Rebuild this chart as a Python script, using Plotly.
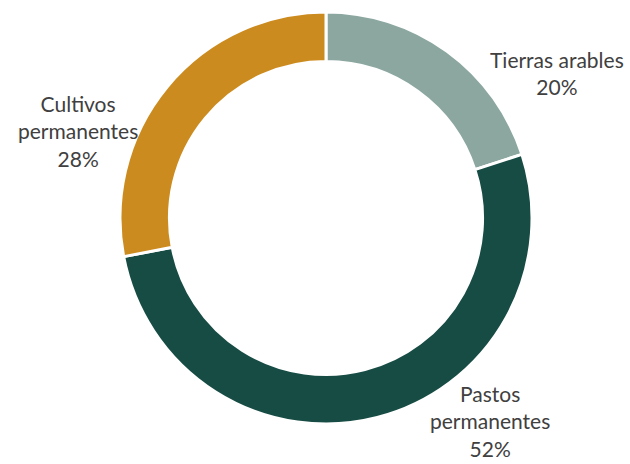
import plotly.graph_objects as go

labels = ["Tierras arables", "Pastos permanentes", "Cultivos permanentes"]
values = [20, 52, 28]
colors = ["#8BA7A0", "#174C45", "#CC8B1E"]

# label text as shown in the chart (line breaks where the original wraps)
label_text = ["Tierras arables<br>20%", "Pastos<br>permanentes<br>52%", "Cultivos<br>permanentes<br>28%"]
label_pos = [(557, 73), (490, 421), (78, 131)]

W, H = 630, 464
cx, cy, r = 326, 218, 206

fig = go.Figure(go.Pie(
    labels=labels, values=values, sort=False, direction="clockwise", rotation=0,
    hole=0.76, textinfo="none", hoverinfo="label+percent",
    marker=dict(colors=colors, line=dict(color="white", width=3)),
    domain=dict(x=[(cx - r) / W, (cx + r) / W], y=[(H - cy - r) / H, (H - cy + r) / H]),
))

for txt, (x, y) in zip(label_text, label_pos):
    fig.add_annotation(text=txt, x=x / W, y=1 - y / H, xref="paper", yref="paper",
                       showarrow=False, xanchor="center", yanchor="middle", align="center",
                       font=dict(family="Lato", size=21, color="#404040"))

fig.update_layout(width=W, height=H, margin=dict(l=0, r=0, t=0, b=0),
                  showlegend=False, paper_bgcolor="white", plot_bgcolor="white")
# drop the default page margin so the figure sits at the window's corner
fig.write_html("out.html", config={"displayModeBar": False},
               post_script="document.body.style.margin='0';document.body.style.overflow='hidden';")
